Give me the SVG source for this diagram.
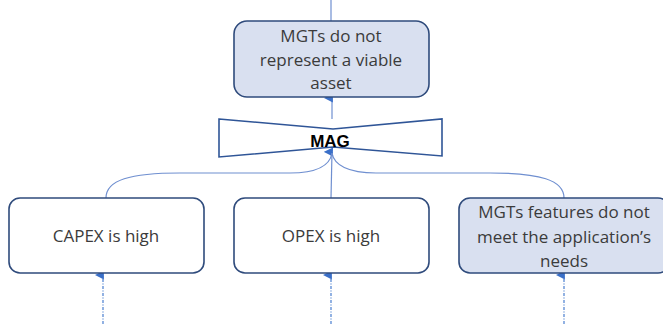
<svg xmlns="http://www.w3.org/2000/svg" width="663" height="324" viewBox="0 0 663 324">
<style>
.box{stroke:#2f4b7c;stroke-width:1.6}
.w{fill:#ffffff}
.b{fill:#d9e0f0}
.t{font-family:"Open Sans","Liberation Sans",sans-serif;font-size:17px;fill:#3b3b3b;text-anchor:middle}
.ln{fill:none;stroke:#6f8fd0;stroke-width:1.2}
.dot{fill:none;stroke:#4a7fd0;stroke-width:1.2;stroke-dasharray:3 1.5 1 1.5}
</style>
<defs>
<marker id="ah" viewBox="0 0 10 10" refX="5" refY="9" markerWidth="10" markerHeight="9" orient="auto-start-reverse" markerUnits="userSpaceOnUse">
<path d="M0,10 L5,0 L10,10 z" fill="#3a6fc8"/>
</marker>
</defs>
<rect width="663" height="324" fill="#ffffff"/>
<g id="connectors">
<line class="ln" x1="331" y1="0" x2="331" y2="21"/>
<line class="ln" x1="332" y1="119" x2="332" y2="98" marker-end="url(#ah)"/>
<line class="ln" x1="331" y1="198" x2="332" y2="152" marker-end="url(#ah)"/>
<path class="ln" d="M106,198 C106,180 130,173 180,173 L290,173 C318,173 330,165 332,153"/>
<path class="ln" d="M564,198 C564,180 540,173 490,173 L376,173 C348,173 334,165 332,153"/>
<line class="dot" x1="103" y1="324" x2="103" y2="275" marker-end="url(#ah)"/>
<line class="dot" x1="331" y1="324" x2="331" y2="275" marker-end="url(#ah)"/>
<line class="dot" x1="564" y1="324" x2="564" y2="275" marker-end="url(#ah)"/>
</g>
<g id="top">
<rect class="box b" x="234" y="21" width="195" height="76" rx="13"/>
<text class="t" x="331" y="42">MGTs do not</text>
<text class="t" x="331" y="66">represent a viable</text>
<text class="t" x="331" y="89">asset</text>
</g>
<g id="mag">
<path d="M219,119 L333,129 L442,119 L442,156 L333,147 L219,157 Z" fill="#ffffff" stroke="#2f5597" stroke-width="1.6"/>
<text x="330" y="147" font-family="'Liberation Sans',Arial,sans-serif" font-size="17" font-weight="bold" fill="#000000" text-anchor="middle">MAG</text>
</g>
<g id="capex">
<rect class="box w" x="9" y="198" width="195" height="75" rx="11"/>
<text class="t" x="106" y="242">CAPEX is high</text>
</g>
<g id="opex">
<rect class="box w" x="234" y="198" width="195" height="75" rx="11"/>
<text class="t" x="331" y="242">OPEX is high</text>
</g>
<g id="features">
<rect class="box b" x="459" y="198" width="210" height="75" rx="11"/>
<text class="t" x="564" y="218">MGTs features do not</text>
<text class="t" x="564" y="243">meet the application’s</text>
<text class="t" x="564" y="267">needs</text>
</g>
</svg>
